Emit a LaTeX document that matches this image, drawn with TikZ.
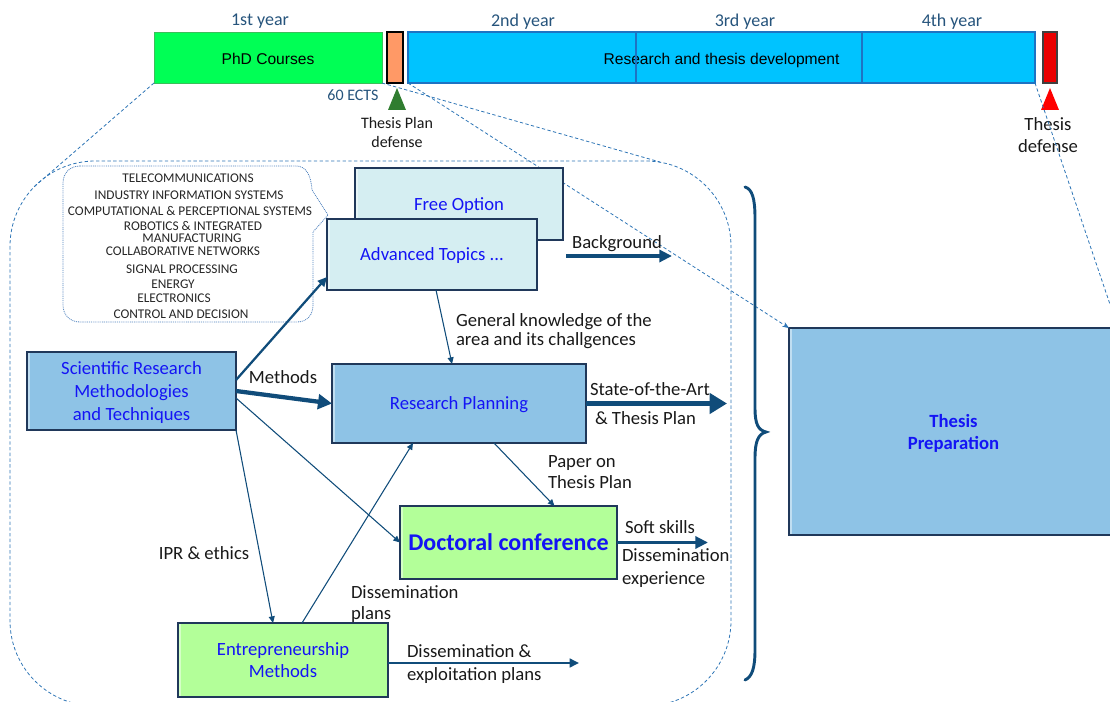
\documentclass[tikz,border=0pt]{standalone}
\usepackage{fontspec}
\setmainfont{Carlito}
\newfontfamily\arialf{Liberation Sans}
\usetikzlibrary{arrows.meta,calc}

\definecolor{yeartxt}{RGB}{38,84,124}
\definecolor{boxtxt}{RGB}{20,20,245}
\definecolor{arr}{RGB}{16,76,122}
\definecolor{dashc}{RGB}{46,117,182}
\definecolor{navy}{RGB}{32,56,90}
\definecolor{lblue}{RGB}{142,195,230}
\definecolor{lcyan}{RGB}{213,238,242}
\definecolor{lgreen}{RGB}{179,255,153}
\definecolor{phdgreen}{RGB}{0,255,85}
\definecolor{phdline}{RGB}{60,190,90}
\definecolor{barblue}{RGB}{0,195,255}
\definecolor{barline}{RGB}{30,115,195}
\definecolor{orangebox}{RGB}{255,153,102}
\definecolor{redbox}{RGB}{235,0,0}
\definecolor{tri}{RGB}{48,125,48}
\definecolor{listline}{RGB}{80,130,190}

\tikzset{
  pbox/.style={draw=navy, line width=1.2pt, inner sep=0pt, outer sep=0pt, align=center, text=boxtxt,
     text depth=0pt, font=\fontsize{14}{17}\selectfont,
     path picture={\draw[white, opacity=0.45, line width=1.6pt]
        ([xshift=1.6pt]path picture bounding box.south west) -- ([xshift=1.6pt]path picture bounding box.north west);}},
  tbar/.style={inner sep=0pt, outer sep=0pt, minimum height=38.25pt, text height=10.5pt, text depth=0.6pt},
  lbl/.style={inner sep=0pt, outer sep=0pt, text=black!90, text depth=0pt, font=\fontsize{14}{17}\selectfont},
  thinarr/.style={draw=arr, line width=0.8pt, -{Triangle[length=5pt,width=4.5pt]}},
  medarr/.style={draw=arr, line width=1.7pt, -{Triangle[length=7pt,width=6.5pt]}},
  boldarr/.style={draw=arr, line width=2.6pt, -{Triangle[length=9.5pt,width=9pt]}},
  heavyarr/.style={draw=arr, line width=3.2pt, -{Triangle[length=10.5pt,width=11pt]}},
  zoomline/.style={draw=dashc, line width=0.6pt, dash pattern=on 2.5pt off 1.8pt},
  yr/.style={text=yeartxt, font=\fontsize{13.5}{16}\selectfont, inner sep=0pt, text depth=0pt},
  lst/.style={font=\fontsize{10}{11}\selectfont, text=black!85, inner sep=0pt},
}

\begin{document}
\begin{tikzpicture}[x=0.75pt,y=-0.75pt]
\useasboundingbox (0,0) rectangle (1110,702);
\clip (0,0) rectangle (1110,702);

% ---------- timeline ----------
\node[yr] (y1) at (260,20) {1st year};
\node[yr] (y2) at (523,20) {2nd year};
\node[yr] (y3) at (745,20) {3rd year};
\node[yr] (y4) at (952,20) {4th year};

\node[tbar, fill=phdgreen, draw=phdline, line width=0.6pt, minimum width=171pt,
      font=\arialf\fontsize{11.7}{14}\selectfont] (phd) at (268,57.5) {PhD Courses};
\node[tbar, fill=orangebox, draw=black, line width=0.8pt, minimum width=12pt] (ects) at (395,57.5) {};
\node[tbar, fill=barblue, draw=barline, line width=0.8pt, minimum width=470.25pt,
      font=\arialf\fontsize{11.7}{14}\selectfont] (rtd) at (721.5,57.5) {Research and thesis development};
\draw[barline, line width=0.8pt] ($(rtd.north west)+(228,0)$) -- ($(rtd.south west)+(228,0)$);
\draw[barline, line width=0.8pt] ($(rtd.north west)+(454,0)$) -- ($(rtd.south west)+(454,0)$);
\node[tbar, fill=redbox, draw=black!75, line width=0.8pt, minimum width=10.5pt] (def) at (1050,57.5) {};

\fill[tri] (397,88) -- (406,110) -- (388,110) -- cycle;
\fill[red] (1050,88) -- (1059,110) -- (1041,110) -- cycle;

\node[inner sep=0pt, text=yeartxt, font=\fontsize{12}{14}\selectfont] (ectsl) at (353,95) {60 ECTS};
\node[inner sep=0pt, align=center, text=black!90, font=\fontsize{12}{14.25}\selectfont] (tpd) at (397,132.5) {Thesis Plan\\defense};
\node[inner sep=0pt, align=center, text=black!90, font=\fontsize{14}{16.5}\selectfont] (tdl) at (1048,135) {Thesis\\defense};

% ---------- big dashed region ----------
\draw[zoomline, rounded corners=64pt] (10,161) rectangle (731,706);

% ---------- thesis preparation ----------
\node[pbox, fill=lblue, minimum width=246.75pt, minimum height=155.25pt,
      font=\bfseries\fontsize{14}{16.5}\selectfont] (tp) at (953.5,431.5) {Thesis\\Preparation};

% zoom lines
\coordinate (rTL) at (35,186);
\coordinate (rTR) at (660,162);
\draw[zoomline] (phd.south west) -- (rTL);
\draw[zoomline] (phd.south east) -- (rTR);
\draw[zoomline, -{Stealth[length=5pt,width=4pt]}] (rtd.south west) -- (tp.north west);
\draw[zoomline] (rtd.south east) -- (tp.north east);

% ---------- brace ----------
\draw[arr, line width=2.2pt, line cap=round]
  (745,187) .. controls (752,189) and (755,198) .. (755,218) -- (755,408)
  .. controls (755,424) and (758,430) .. (766,432)
  .. controls (758,434) and (755,442) .. (755,458) -- (755,650)
  .. controls (755,668) and (752,677) .. (745,680);

% ---------- list callout ----------
\draw[listline, line width=0.6pt, dash pattern=on 0.7pt off 0.7pt]
  (80,166) -- (296,166) .. controls (306,166) and (311,175) .. (312,190)
  -- (328,215) -- (313,232) -- (313,305)
  .. controls (313,315) and (307,322) .. (297,322) -- (80,322)
  .. controls (70,322) and (63,315) .. (63,305) -- (63,183)
  .. controls (63,173) and (70,166) .. (80,166) -- cycle;

\node[lst] (l1) at (188,178) {TELECOMMUNICATIONS};
\node[lst] (l2) at (189,195) {INDUSTRY INFORMATION SYSTEMS};
\node[lst] (l3) at (190,211) {COMPUTATIONAL \& PERCEPTIONAL SYSTEMS};
\node[lst] (l4) at (193,226) {ROBOTICS \& INTEGRATED};
\node[lst] (l5) at (192,238) {MANUFACTURING};
\node[lst] (l6) at (183,251) {COLLABORATIVE NETWORKS};
\node[lst] (l7) at (182,269) {SIGNAL PROCESSING};
\node[lst] (l8) at (173,284) {ENERGY};
\node[lst] (l9) at (174,298) {ELECTRONICS};
\node[lst] (l10) at (181,314) {CONTROL AND DECISION};

% ---------- boxes ----------
\node[pbox, fill=lcyan, minimum width=156pt, minimum height=54pt] (fo) at (459,204) {Free Option};
\node[pbox, fill=lcyan, minimum width=157.5pt, minimum height=53.25pt] (at) at (432,254.5) {Advanced Topics ...};
\node[pbox, fill=lblue, minimum width=156.75pt, minimum height=58.5pt] (srm) at (131.5,391) {Scientific Research\\Methodologies\\and Techniques};
\node[pbox, fill=lblue, minimum width=190.5pt, minimum height=59.25pt] (rp) at (459,403.5) {Research Planning};
\node[pbox, fill=lgreen, line width=2.2pt, minimum width=162.75pt, minimum height=54.75pt,
      font=\bfseries\fontsize{18}{21}\selectfont] (dc) at (508.5,542.5) {Doctoral conference};
\node[pbox, fill=lgreen, minimum width=157.5pt, minimum height=55.5pt] (em) at (283,660) {Entrepreneurship\\Methods};

% ---------- connectors ----------
\draw[medarr] ($(srm.east)+(0,-11)$) -- ($(at.west)+(0,22.5)$);
\draw[heavyarr] (srm.east) -- (rp.west);
\draw[thinarr] ($(srm.east)+(0,7)$) -- (dc.west);
\draw[thinarr] (srm.south east) -- ($(em.north)+(-10,0)$);
\draw[thinarr] ($(em.north)+(19,0)$) -- ($(rp.south)+(-46,0)$);
\draw[thinarr] ($(at.south)+(4,0)$) -- ($(rp.north)+(-7,0)$);
\draw[thinarr] ($(rp.south)+(35,0)$) -- ($(dc.north)+(46,0)$);

\coordinate (sota) at (727,403.5);
\draw[heavyarr, line width=3.6pt, -{Triangle[length=13pt,width=15pt]}] (rp.east) -- (sota);
\coordinate (bg1) at (566,256);
\coordinate (bg2) at (672,256);
\draw[boldarr] (bg1) -- (bg2);
\coordinate (dcout) at (708,542.5);
\draw[boldarr] (dc.east) -- (dcout);
\coordinate (emout) at (579,663);
\draw[medarr, line width=2.2pt] ($(em.east)+(0,3)$) -- (emout);

% ---------- labels ----------
\node[lbl] (methods) at (283,377) {Methods};
\node[lbl] (ipr) at (204,553) {IPR \& ethics};
\node[lbl] (bgl) at (617,242) {Background};
\node[lbl, anchor=west, align=left, font=\fontsize{14}{14.3}\selectfont] (gk) at (456,329.5) {General knowledge of the\\area and its challgences};
\node[lbl, anchor=west, align=left, font=\fontsize{14}{15.75}\selectfont] (pot) at (548,472.5) {Paper on\\Thesis Plan};
\node[lbl, anchor=west] (sa1) at (590,389) {State-of-the-Art};
\node[lbl, anchor=west] (sa2) at (595,418) {\& Thesis Plan};
\node[lbl, anchor=west] (ss) at (625,527) {Soft skills};
\node[lbl, anchor=west, align=left, font=\fontsize{14}{17.25}\selectfont] (de) at (622,566.5) {Dissemination\\experience};
\node[lbl, anchor=west, align=left, font=\fontsize{14}{17.25}\selectfont] (dex) at (407,662.5) {Dissemination \&\\exploitation plans};
\node[lbl, anchor=west, align=left, font=\fontsize{14}{15.75}\selectfont] (dp) at (351,602.5) {Dissemination\\plans};
\end{tikzpicture}
\end{document}
